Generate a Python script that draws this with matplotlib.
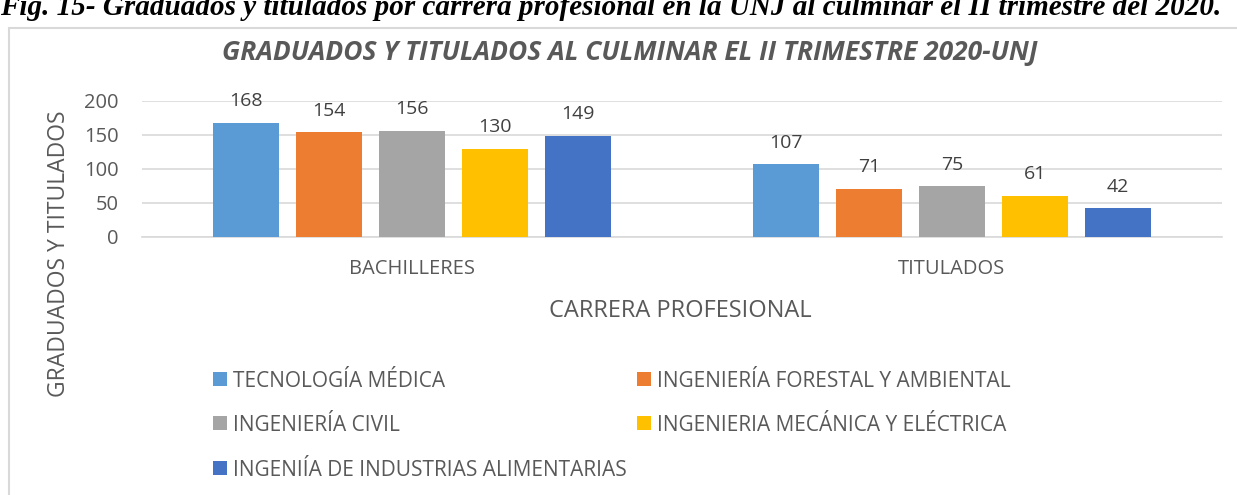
import matplotlib
matplotlib.use("Agg")
import matplotlib.pyplot as plt
from matplotlib.patches import Rectangle
import numpy as np

categories = ["BACHILLERES", "TITULADOS"]
series_names = [
    "TECNOLOGÍA MÉDICA",
    "INGENIERÍA FORESTAL Y AMBIENTAL",
    "INGENIERÍA CIVIL",
    "INGENIERIA MECÁNICA Y ELÉCTRICA",
    "INGENIÍA DE INDUSTRIAS ALIMENTARIAS",
]
tecnologia_medica = [168, 107]
ing_forestal = [154, 71]
ing_civil = [156, 75]
ing_mecanica = [130, 61]
ing_alimentarias = [149, 42]
series_values = [tecnologia_medica, ing_forestal, ing_civil, ing_mecanica, ing_alimentarias]
colors = ["#5B9BD5", "#ED7D31", "#A5A5A5", "#FFC000", "#4472C4"]
yticks = [0, 50, 100, 150, 200]

title = "GRADUADOS Y TITULADOS AL CULMINAR EL II TRIMESTRE 2020-UNJ"
caption = "Fig. 15- Graduados y titulados por carrera profesional en la UNJ al culminar el II trimestre del 2020."

FONT = ["Open Sans", "DejaVu Sans"]
TXT = "#595959"

W, H = 1237, 495
fig = plt.figure(figsize=(W / 100, H / 100), dpi=100)
fig.patch.set_facecolor("white")

# chart border
fig.patches.append(Rectangle((9 / W, -0.05), 1.1, (1 - 28 / H) + 0.05,
                             transform=fig.transFigure, fill=False,
                             edgecolor="#D9D9D9", linewidth=1.5))

# caption (cut at top as in the source)
fig.text(0.0, 1 - 15 / H, caption, fontfamily=["Liberation Serif"], fontweight="bold",
         style="italic", fontsize=21, va="baseline", ha="left", color="black")

ax = fig.add_axes([142 / W, 1 - 237 / H, 1080 / W, 136 / H])
x = np.arange(len(categories))
step = 83 / 540
bw = 66 / 540
for i, (name, vals, c) in enumerate(zip(series_names, series_values, colors)):
    pos = x + (i - 2) * step
    ax.bar(pos, vals, bw, color=c, label=name, zorder=3)
    for p, v in zip(pos, vals):
        ax.annotate(str(v), (p, v), xytext=(0, 9), textcoords="offset points",
                    ha="center", va="bottom", fontsize=14, color="#404040",
                    fontfamily=FONT)

ax.set_xlim(-0.5, 1.5)
ax.set_ylim(0, 200)
ax.set_yticks(yticks)
ax.set_xticks(x)
ax.set_xticklabels(categories)
ax.yaxis.grid(True, color="#D9D9D9", linewidth=1.2, zorder=0)
ax.set_axisbelow(True)
for s in ["top", "right", "left"]:
    ax.spines[s].set_visible(False)
ax.spines["bottom"].set_color("#D9D9D9")
ax.spines["bottom"].set_linewidth(1.2)
ax.tick_params(axis="both", length=0, labelsize=14.5, labelcolor=TXT)
ax.tick_params(axis="x", pad=16)
ax.tick_params(axis="y", pad=17)
for lab in ax.get_xticklabels() + ax.get_yticklabels():
    lab.set_fontfamily(FONT)

fig.text(59 / W, 1 - 254 / H, "GRADUADOS Y TITULADOS", rotation=90, ha="center",
         va="center", fontsize=16.5, color=TXT, fontfamily=FONT)
fig.text(680 / W, 1 - 311 / H, "CARRERA PROFESIONAL", ha="center", va="center",
         fontsize=17, color=TXT, fontfamily=FONT)
fig.text(630 / W, 1 - 52 / H, title, ha="center", va="center", fontsize=19,
         color=TXT, fontweight="bold", style="italic", fontfamily=FONT)

# legend laid out in rows of two, like the source
row_y = [379, 423, 468]
col_x = [213, 637]
for i, (name, c) in enumerate(zip(series_names, colors)):
    r, col = divmod(i, 2)
    mx, my = col_x[col], row_y[r]
    fig.patches.append(Rectangle((mx / W, 1 - (my + 7) / H), 14 / W, 14 / H,
                                 transform=fig.transFigure, facecolor=c,
                                 edgecolor="none"))
    fig.text((mx + 20) / W, 1 - my / H, name, ha="left", va="center_baseline",
             fontsize=15, color=TXT, fontfamily=FONT)

fig.savefig("out.png", dpi=100, facecolor="white")
